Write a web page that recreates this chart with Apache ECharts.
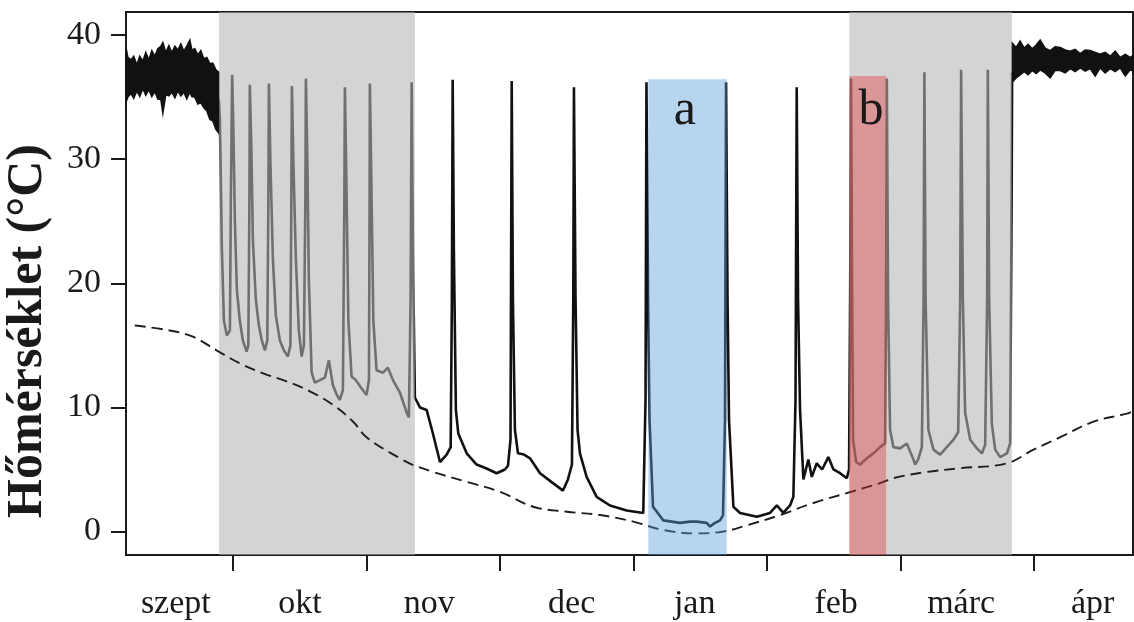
<!DOCTYPE html>
<html>
<head>
<meta charset="utf-8">
<script src="https://cdn.jsdelivr.net/npm/echarts@6/dist/echarts.min.js"></script>
<style>
html,body{margin:0;padding:0;background:#fff;}
#chart{width:1134px;height:622px;}
</style>
</head>
<body>
<div id="chart"></div>
<script>
// ---- DATA (x = months since 1 Sept, y = °C) ----
const monthTicks = [1, 2, 3, 4, 5, 6, 7];
const monthNames = ['szept', 'okt', 'nov', 'dec', 'jan', 'feb', 'márc', 'ápr'];
const monthNamePos = [0.573, 1.502, 2.470, 3.537, 4.458, 5.517, 6.453, 7.438];
const tempTicks = [0, 10, 20, 30, 40];

// euthermic (active) periods: noisy band, upper & lower envelope
const bandLeftMonth = [0.2, 0.214, 0.236, 0.258, 0.281, 0.303, 0.326, 0.348, 0.371, 0.393, 0.416, 0.438, 0.461, 0.476, 0.498, 0.521, 0.543, 0.566, 0.588, 0.611, 0.633, 0.655, 0.678, 0.693, 0.715, 0.738, 0.760, 0.783, 0.805, 0.828, 0.850, 0.873, 0.895];
const bandLeftUpper = [39.0, 38.2, 38.0, 38.3, 37.6, 38.3, 37.9, 38.6, 38.0, 38.75, 38.3, 38.9, 39.1, 39.4, 38.6, 39.15, 38.6, 39.1, 38.8, 39.3, 38.7, 39.1, 39.6, 38.8, 38.9, 38.4, 38.75, 38.1, 38.2, 37.7, 37.75, 37.2, 37.0];
const bandLeftLower = [34.6, 35.0, 35.3, 34.9, 35.5, 35.05, 35.7, 35.15, 35.6, 35.05, 35.45, 34.85, 34.8, 33.7, 35.2, 35.1, 35.4, 34.95, 35.5, 35.1, 35.4, 34.85, 35.4, 35.05, 35.0, 34.45, 34.55, 34.15, 33.9, 33.2, 33.1, 32.4, 32.1];
const bandRightMonth = [6.835, 6.865, 6.895, 6.925, 6.955, 6.985, 7.015, 7.045, 7.082, 7.120, 7.157, 7.195, 7.232, 7.270, 7.307, 7.345, 7.382, 7.419, 7.457, 7.494, 7.532, 7.569, 7.607, 7.644, 7.682, 7.719, 7.74];
const bandRightUpper = [39.36, 39.0, 39.52, 38.95, 39.25, 38.9, 39.2, 39.6, 38.95, 38.75, 39.05, 39.0, 38.8, 38.7, 38.85, 38.5, 38.8, 38.75, 38.6, 38.45, 38.6, 38.3, 38.7, 38.2, 38.45, 38.2, 38.35];
const bandRightLower = [36.2, 36.55, 36.8, 37.05, 36.8, 37.15, 36.9, 37.2, 36.95, 36.55, 37.15, 37.15, 36.95, 37.3, 37.05, 37.35, 37.1, 37.3, 36.7, 37.35, 36.95, 37.3, 37.05, 37.35, 36.7, 37.2, 37.1];

// body temperature during hibernation (torpor bouts + arousals)
const bodyTemp = [
[0.895,34.8],[0.903,33.2],[0.918,22.7],[0.933,17.0],[0.955,15.8],[0.978,16.2],[0.985,26.7],[0.995,36.8],
[1.004,32.4],[1.015,25.1],[1.030,19.5],[1.052,17.0],[1.075,15.4],[1.103,14.5],[1.116,15.0],[1.124,26.7],[1.127,36.0],
[1.139,30.7],[1.150,23.5],[1.172,18.7],[1.195,16.6],[1.217,15.4],[1.240,14.6],[1.258,15.4],[1.266,26.7],[1.270,36.1],
[1.281,29.9],[1.300,21.9],[1.322,17.4],[1.352,15.4],[1.382,14.6],[1.412,14.1],[1.431,15.0],[1.438,26.7],[1.442,35.9],
[1.453,29.9],[1.472,21.9],[1.494,16.2],[1.515,14.1],[1.532,15.0],[1.543,26.7],[1.547,36.5],
[1.558,29.9],[1.569,20.3],[1.590,12.8],[1.614,12.0],[1.652,12.2],[1.689,12.4],[1.719,13.8],[1.749,11.8],[1.779,11.0],[1.801,10.6],[1.824,11.4],[1.835,26.7],[1.839,35.8],
[1.850,28.3],[1.865,17.0],[1.889,12.5],[1.921,12.2],[1.959,11.6],[2.001,11.0],[2.019,12.2],[2.024,26.7],[2.026,36.1],
[2.037,28.3],[2.052,17.0],[2.076,13.0],[2.124,12.8],[2.161,13.2],[2.199,12.2],[2.251,11.2],[2.301,9.6],[2.318,9.2],[2.331,18.7],[2.339,36.2],
[2.348,22.7],[2.363,10.8],[2.401,10.0],[2.451,9.8],[2.498,7.9],[2.551,5.6],[2.601,6.2],[2.631,6.8],[2.640,18.7],[2.646,36.4],
[2.655,22.7],[2.670,9.8],[2.688,7.9],[2.751,6.3],[2.825,5.4],[2.895,5.1],[2.975,4.7],[3.037,5.0],[3.060,5.3],[3.079,7.4],[3.088,36.3],
[3.097,18.7],[3.112,8.2],[3.135,6.3],[3.180,6.2],[3.225,5.9],[3.300,4.7],[3.397,3.9],[3.472,3.3],[3.509,4.2],[3.539,5.4],[3.549,18.7],[3.554,35.8],
[3.566,18.7],[3.581,8.2],[3.599,6.3],[3.649,4.4],[3.724,2.8],[3.824,2.1],[3.949,1.7],[4.073,1.5],[4.090,10.6],[4.097,36.2],
[4.109,18.7],[4.120,9.0],[4.146,2.0],[4.223,0.9],[4.348,0.7],[4.423,0.8],[4.473,0.8],[4.548,0.7],[4.573,0.4],[4.610,0.7],[4.648,0.9],[4.670,1.3],[4.685,9.0],[4.693,36.2],
[4.704,18.7],[4.715,9.0],[4.748,2.0],[4.798,1.5],[4.923,1.2],[5.022,1.5],[5.073,2.1],[5.122,1.5],[5.172,2.1],[5.197,2.8],[5.213,10.6],[5.222,35.8],
[5.232,18.7],[5.247,9.8],[5.272,4.2],[5.309,5.8],[5.335,4.4],[5.372,5.5],[5.412,5.0],[5.459,6.0],[5.497,5.0],[5.547,4.7],[5.597,4.3],[5.614,5.0],[5.622,18.7],[5.629,36.5],
[5.637,18.7],[5.644,7.4],[5.667,5.6],[5.697,5.4],[5.747,5.9],[5.796,6.3],[5.846,6.8],[5.884,7.1],[5.891,18.7],[5.897,36.5],
[5.906,18.7],[5.921,8.2],[5.946,6.8],[5.996,6.7],[6.046,7.1],[6.096,5.8],[6.109,5.4],[6.131,5.8],[6.159,6.8],[6.172,18.7],[6.178,37.0],
[6.187,18.7],[6.208,8.2],[6.246,6.6],[6.296,6.2],[6.346,6.8],[6.396,7.4],[6.431,8.0],[6.446,18.7],[6.453,37.2],
[6.466,18.7],[6.483,9.6],[6.521,7.4],[6.571,6.7],[6.609,6.3],[6.633,7.0],[6.648,18.7],[6.653,37.2],
[6.663,18.7],[6.683,8.7],[6.708,6.6],[6.745,6.0],[6.796,6.3],[6.820,7.1],[6.831,26.7],[6.835,37.0]
];

// ambient (burrow) temperature, dashed
const ambientTemp = [
[0.266,16.6],[0.528,16.2],[0.700,15.7],[0.878,14.6],[1.052,13.55],[1.227,12.75],[1.402,12.1],[1.577,11.3],
[1.751,10.2],[1.901,8.85],[2.001,7.6],[2.251,5.9],[2.351,5.36],[2.500,4.8],[2.751,4.0],[3.000,3.2],[3.249,2.0],
[3.500,1.6],[3.749,1.33],[3.999,0.8],[4.223,0.12],[4.473,-0.15],[4.673,0.0],[4.848,0.5],[5.097,1.33],[5.347,2.3],
[5.597,3.1],[5.846,3.9],[5.946,4.3],[6.196,4.8],[6.446,5.1],[6.796,5.5],[6.995,6.6],[7.195,7.6],[7.444,8.85],[7.694,9.5],[7.740,9.7]
];

// shaded periods (months) and highlighted bouts
const grayStart = [0.897, 5.616];
const grayEnd = [2.363, 6.833];
const markStart = [4.111, 5.616];
const markEnd = [4.698, 5.891];
const markTop = [36.44, 36.70];
const markLabel = ['a', 'b'];
const markLabelMonth = [4.384, 5.779];
const markLabelTemp = 33.9;

// ---- CHART ----
const X_MIN = 0.2, X_MAX = 7.74, Y_MIN = -1.89, Y_MAX = 41.86;
const SERIF = '"Liberation Serif","Times New Roman",serif';
const INK = '#1a1a1a';
const chart = echarts.init(document.getElementById('chart'), null, {renderer: 'canvas'});

const bands = [
  {m: bandLeftMonth, up: bandLeftUpper, lo: bandLeftLower},
  {m: bandRightMonth, up: bandRightUpper, lo: bandRightLower}
];
const markColors = ['rgba(91,159,216,0.44)', 'rgba(229,40,42,0.36)'];

chart.setOption({
  animation: false,
  backgroundColor: '#fff',
  grid: {left: 126, right: 1, top: 12, bottom: 67, show: true, borderColor: INK, borderWidth: 2, backgroundColor: 'transparent'},
  xAxis: {
    type: 'value', min: X_MIN, max: X_MAX,
    splitLine: {show: false},
    axisLine: {onZero: false, lineStyle: {color: INK, width: 2}},
    axisTick: {show: true, customValues: monthTicks, length: 16, lineStyle: {color: INK, width: 2}},
    axisLabel: {
      customValues: monthNamePos,
      formatter: v => { const i = monthNamePos.indexOf(v); return i >= 0 ? monthNames[i] : ''; },
      fontFamily: SERIF, fontSize: 34, color: INK, margin: 32, lineHeight: 34
    }
  },
  yAxis: {
    type: 'value', min: Y_MIN, max: Y_MAX,
    splitLine: {show: false},
    axisLine: {show: true, onZero: false, lineStyle: {color: INK, width: 2}},
    axisTick: {show: true, customValues: tempTicks, length: 15, lineStyle: {color: INK, width: 2}},
    axisLabel: {customValues: tempTicks, fontFamily: SERIF, fontSize: 34, color: INK, margin: 25}
  },
  graphic: [{
    type: 'text', x: 28, y: 331, rotation: Math.PI / 2,
    style: {text: 'Hőmérséklet (°C)', font: 'bold 50px ' + SERIF, fill: INK, align: 'center', verticalAlign: 'middle'}
  }],
  series: [
    {
      name: 'band', type: 'custom', z: 2, silent: true,
      data: [[bandLeftMonth[0], bandLeftUpper[0], 0], [bandRightMonth[0], bandRightUpper[0], 1]],
      renderItem: (params, api) => {
        const b = bands[api.value(2)];
        const pts = [];
        for (let i = 0; i < b.m.length; i++) pts.push(api.coord([b.m[i], b.up[i]]));
        for (let i = b.m.length - 1; i >= 0; i--) pts.push(api.coord([b.m[i], b.lo[i]]));
        return {type: 'polygon', shape: {points: pts}, style: {fill: '#111', stroke: '#111', lineWidth: 1.5}};
      }
    },
    {
      name: 'testhő', type: 'line', z: 2, data: bodyTemp, showSymbol: false, symbol: 'none',
      lineStyle: {color: '#111', width: 2.6}, silent: true
    },
    {
      name: 'gray', type: 'custom', z: 3, silent: true,
      data: grayStart.map((s, i) => [s, grayEnd[i]]),
      renderItem: (params, api) => {
        const p0 = api.coord([api.value(0), Y_MAX]);
        const p1 = api.coord([api.value(1), Y_MIN]);
        return {type: 'rect', shape: {x: p0[0], y: p0[1], width: p1[0] - p0[0], height: p1[1] - p0[1]},
          style: {fill: 'rgba(181,181,183,0.58)'}};
      }
    },
    {
      name: 'környezet', type: 'line', z: 4, data: ambientTemp, showSymbol: false, symbol: 'none', smooth: 0.4,
      lineStyle: {color: '#1e1e1e', width: 1.9, type: [11, 6]}, silent: true
    },
    {
      name: 'marks', type: 'custom', z: 5, silent: true,
      data: markStart.map((s, i) => [s, markEnd[i], markTop[i], i, markLabelMonth[i]]),
      renderItem: (params, api) => {
        const idx = api.value(3);
        const p0 = api.coord([api.value(0), api.value(2)]);
        const p1 = api.coord([api.value(1), Y_MIN]);
        const pl = api.coord([api.value(4), markLabelTemp]);
        return {type: 'group', children: [
          {type: 'rect', shape: {x: p0[0], y: p0[1], width: p1[0] - p0[0], height: p1[1] - p0[1]}, style: {fill: markColors[idx]}},
          {type: 'text', x: pl[0], y: pl[1], style: {text: markLabel[idx], font: '50px ' + SERIF, fill: INK, align: 'center', verticalAlign: 'middle'}}
        ]};
      }
    }
  ]
});
</script>
</body>
</html>
